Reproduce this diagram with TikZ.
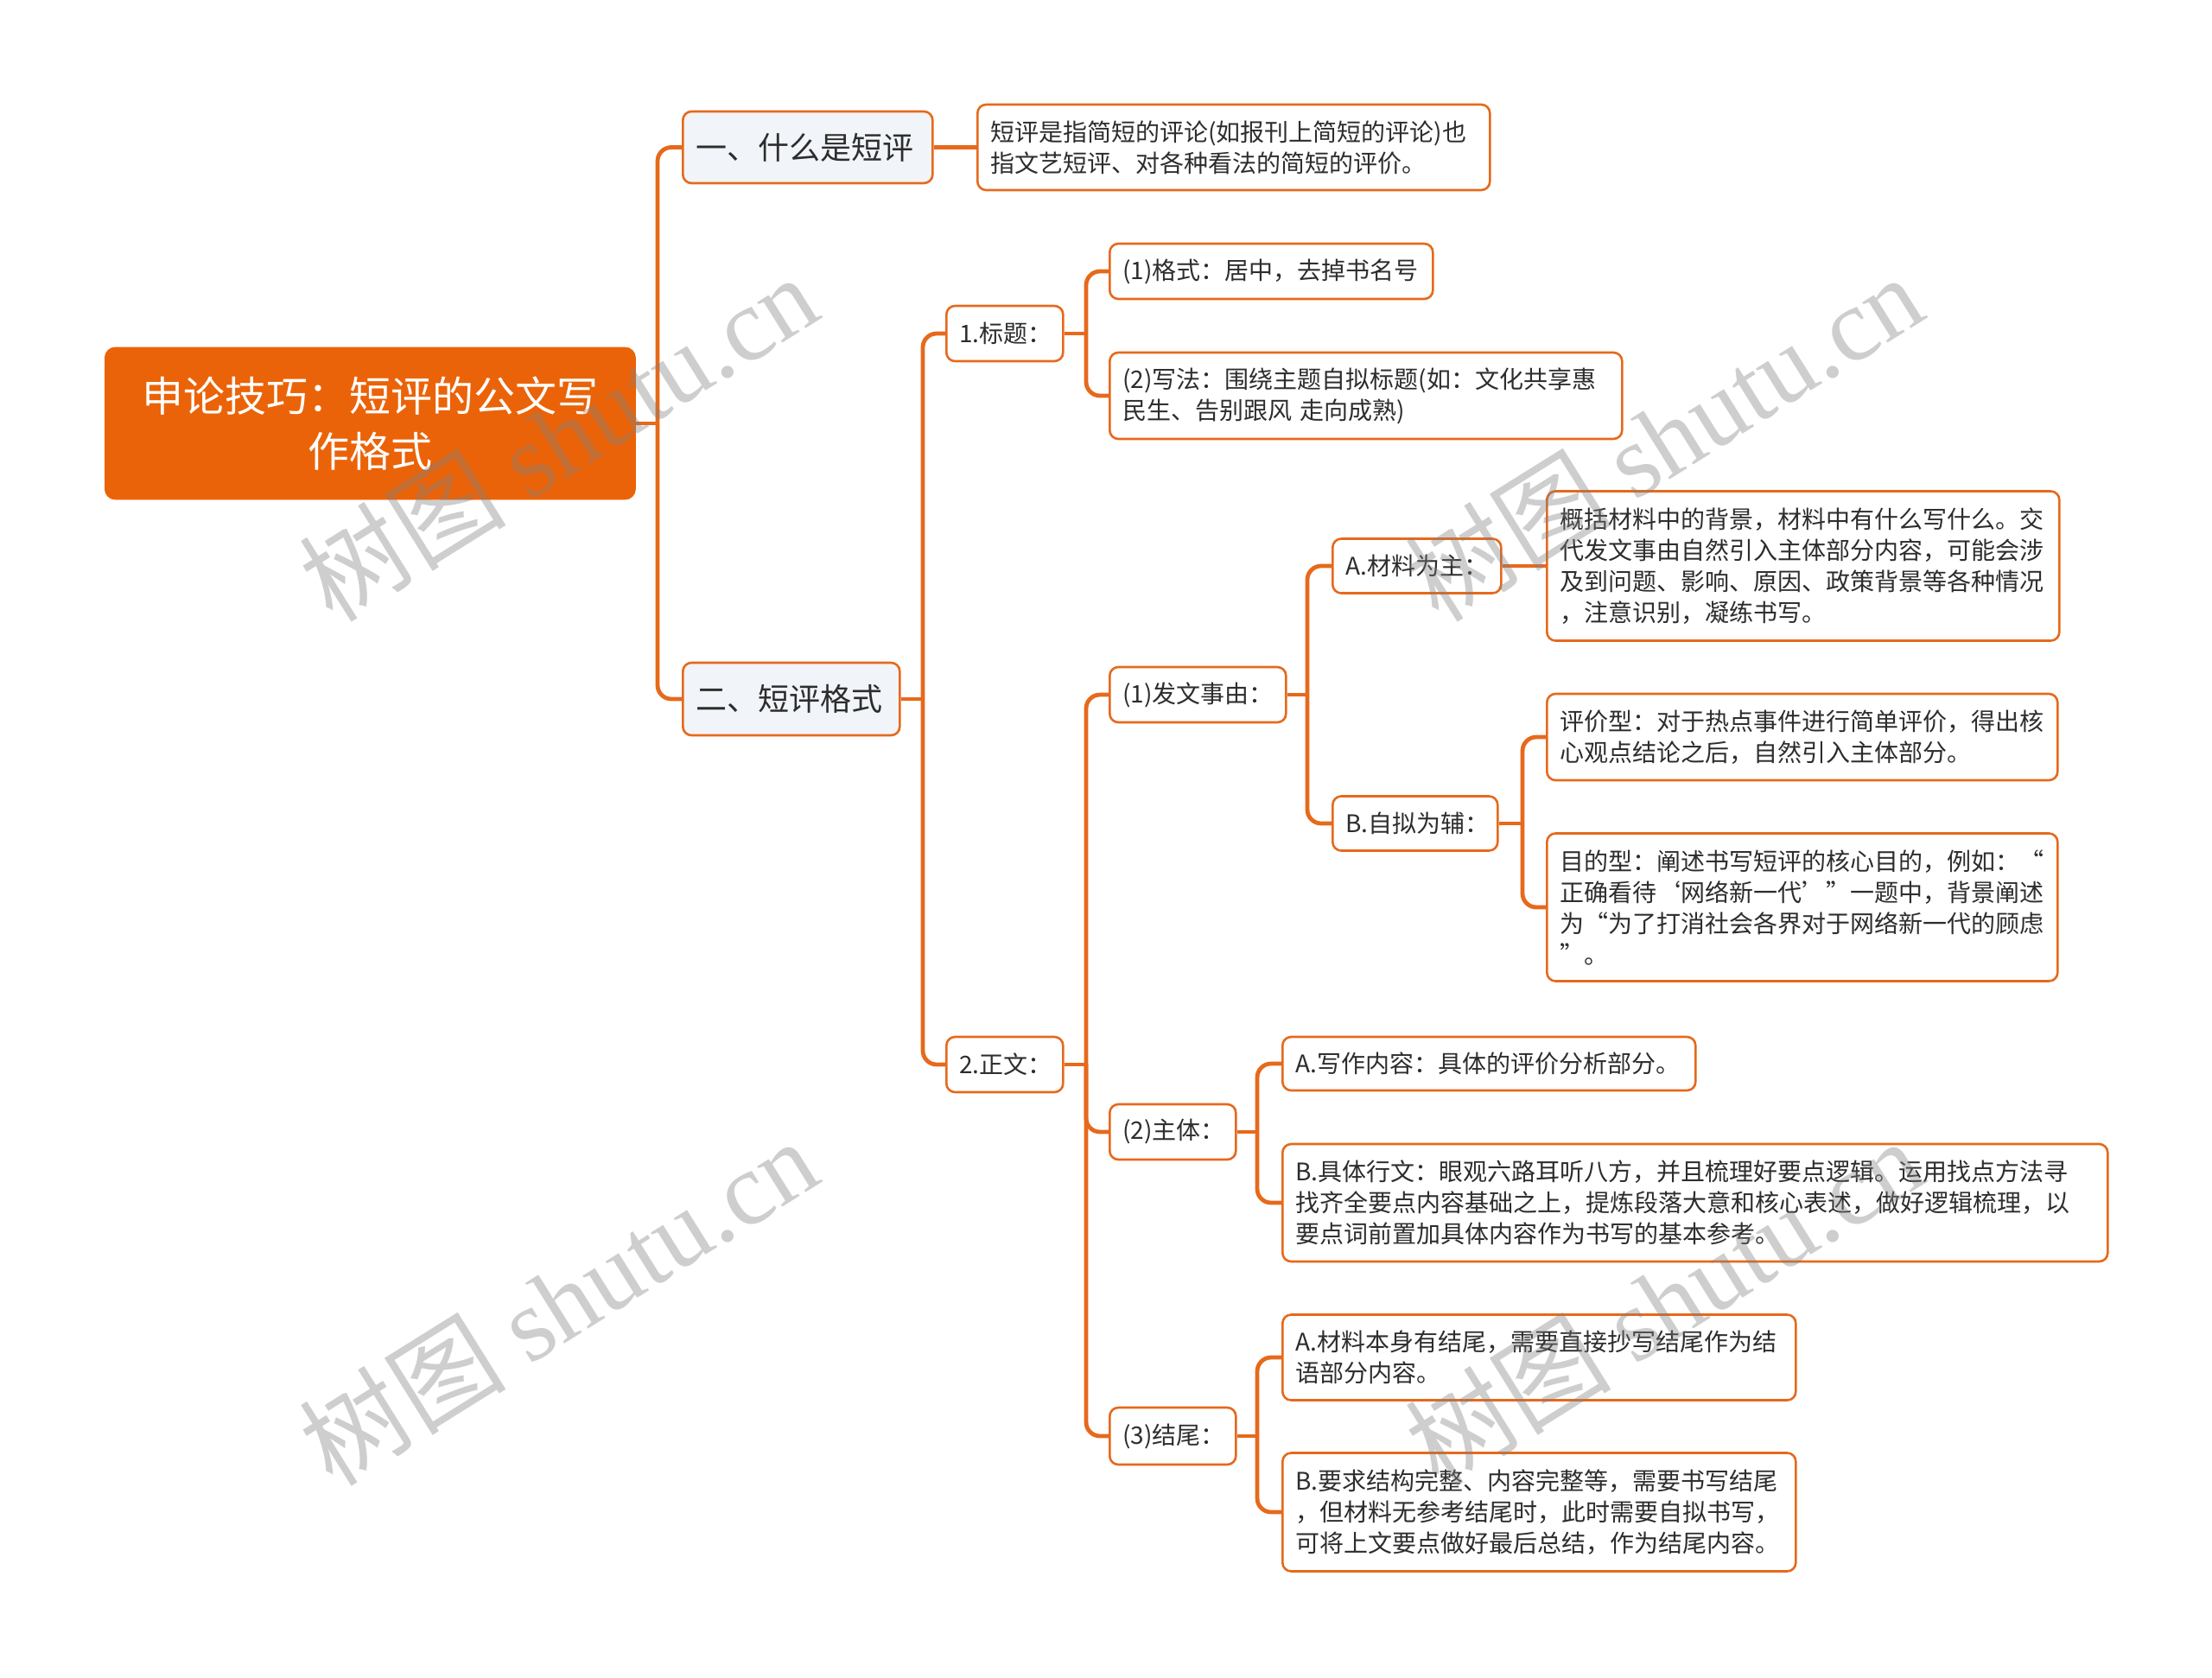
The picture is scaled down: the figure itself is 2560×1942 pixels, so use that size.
\documentclass[tikz,border=0pt]{standalone}
\usepackage{fontspec}
\setmainfont{Noto Sans CJK SC}
\newfontfamily\wmlatin{Liberation Serif}
\definecolor{orangeA}{RGB}{235,99,8}
\definecolor{lineC}{RGB}{230,105,28}
\definecolor{subFill}{RGB}{241,244,248}
\definecolor{txt}{RGB}{45,45,45}
\begin{document}
\begin{tikzpicture}[x=0.5pt,y=-0.5pt,
 conn/.style={draw=lineC, line width=2.4pt},
 elbow/.style={conn, rounded corners=8pt},
 box/.style={draw=lineC, line width=1.3pt, rounded corners=5pt, fill=white, anchor=west, inner xsep=7.5pt, inner ysep=2pt, align=left, text=txt, font=\fontsize{14}{18}\selectfont},
 sub/.style={box, fill=subFill, font=\fontsize{18}{24}\selectfont},
 rootbox/.style={fill=orangeA, draw=orangeA, rounded corners=6pt, anchor=west, text=white, align=center, inner xsep=10pt, font=\fontsize{24}{32}\selectfont},
 wm/.style={text=gray, text opacity=0.38, rotate=32, font=\fontsize{60}{64}\selectfont}
]
\fill[white] (0,0) rectangle (2560,1942);
\useasboundingbox (0,0) rectangle (2560,1942);

\node[rootbox, text width=287pt, minimum height=88pt] (root) at (121,490) {申论技巧：短评的公文写\\作格式};
\node[sub, text width=129.5pt, minimum height=41.5pt] (n1) at (789,170.5) {一、什么是短评};
\node[sub, text width=110.5pt, minimum height=42pt] (n2) at (789,809) {二、短评格式};
\node[box, text width=281.5pt, minimum height=49.5pt] (d1) at (1130,170.5) {短评是指简短的评论(如报刊上简短的评论)也\\指文艺短评、对各种看法的简短的评价。};
\node[box, text width=52.5pt, minimum height=32pt] (t1) at (1094,386) {1.标题：};
\node[box, text width=52.5pt, minimum height=32pt] (t2) at (1094,1232) {2.正文：};
\node[box, text width=172pt, minimum height=32pt] (g1) at (1283,314) {(1)格式：居中，去掉书名号};
\node[box, text width=281.5pt, minimum height=50pt] (g2) at (1283,458) {(2)写法：围绕主题自拟标题(如：文化共享惠\\民生、告别跟风 走向成熟)};
\node[box, text width=87pt, minimum height=32pt] (z1) at (1283,804) {(1)发文事由：};
\node[box, text width=58pt, minimum height=32pt] (z2) at (1283,1310) {(2)主体：};
\node[box, text width=58pt, minimum height=33pt] (z3) at (1283,1662) {(3)结尾：};
\node[box, text width=82.5pt, minimum height=31.5pt] (a1) at (1541,655) {A.材料为主：};
\node[box, text width=80.5pt, minimum height=31.5pt] (a2) at (1541,953) {B.自拟为辅：};
\node[box, text width=281.5pt, minimum height=86.5pt] (a1c) at (1789,655) {概括材料中的背景，材料中有什么写什么。交\\代发文事由自然引入主体部分内容，可能会涉\\及到问题、影响、原因、政策背景等各种情况\\，注意识别，凝练书写。};
\node[box, text width=280.5pt, minimum height=50pt] (b1) at (1789,853) {评价型：对于热点事件进行简单评价，得出核\\心观点结论之后，自然引入主体部分。};
\node[box, text width=280.5pt, minimum height=85.5pt] (b2) at (1789,1050) {目的型：阐述书写短评的核心目的，例如：“\\正确看待‘网络新一代’”一题中，背景阐述\\为“为了打消社会各界对于网络新一代的顾虑\\”。};
\node[box, text width=224pt, minimum height=31pt] (m1) at (1483,1231) {A.写作内容：具体的评价分析部分。};
\node[box, text width=462.5pt, minimum height=68pt] (m2) at (1483,1392) {B.具体行文：眼观六路耳听八方，并且梳理好要点逻辑。运用找点方法寻\\找齐全要点内容基础之上，提炼段落大意和核心表述，做好逻辑梳理，以\\要点词前置加具体内容作为书写的基本参考。};
\node[box, text width=282pt, minimum height=49.5pt] (e1) at (1483,1571) {A.材料本身有结尾，需要直接抄写结尾作为结\\语部分内容。};
\node[box, text width=282pt, minimum height=68.5pt] (e2) at (1483,1750) {B.要求结构完整、内容完整等，需要书写结尾\\，但材料无参考结尾时，此时需要自拟书写，\\可将上文要点做好最后总结，作为结尾内容。};

\coordinate (jr) at (761,490);
\coordinate (jn2) at (1068,809);
\coordinate (jt1) at (1257,386);
\coordinate (jt2) at (1257,1232);
\coordinate (jz1) at (1513,804);
\coordinate (ja2) at (1762,953);
\coordinate (jz2) at (1455,1310);
\coordinate (jz3) at (1455,1662);

\draw[conn] (root.east) -- (jr);
\draw[elbow] (jr) |- (n1.west);
\draw[elbow] (jr) |- (n2.west);
\draw[conn] (n1.east) -- (d1.west);
\draw[conn] (n2.east) -- (jn2);
\draw[elbow] (jn2) |- (t1.west);
\draw[elbow] (jn2) |- (t2.west);
\draw[conn] (t1.east) -- (jt1);
\draw[elbow] (jt1) |- (g1.west);
\draw[elbow] (jt1) |- (g2.west);
\draw[conn] (t2.east) -- (jt2);
\draw[elbow] (jt2) |- (z1.west);
\draw[elbow] (jt2) |- (z2.west);
\draw[elbow] (jt2) |- (z3.west);
\draw[conn] (z1.east) -- (jz1);
\draw[elbow] (jz1) |- (a1.west);
\draw[elbow] (jz1) |- (a2.west);
\draw[conn] (a1.east) -- (a1c.west);
\draw[conn] (a2.east) -- (ja2);
\draw[elbow] (ja2) |- (b1.west);
\draw[elbow] (ja2) |- (b2.west);
\draw[conn] (z2.east) -- (jz2);
\draw[elbow] (jz2) |- (m1.west);
\draw[elbow] (jz2) |- (m2.west);
\draw[conn] (z3.east) -- (jz3);
\draw[elbow] (jz3) |- (e1.west);
\draw[elbow] (jz3) |- (e2.west);

\node[wm] (w1) at (646,506) {树图 {\wmlatin shutu.cn}};
\node[wm] (w2) at (1925,506) {树图 {\wmlatin shutu.cn}};
\node[wm] (w3) at (646,1506) {树图 {\wmlatin shutu.cn}};
\node[wm] (w4) at (1925,1506) {树图 {\wmlatin shutu.cn}};
\end{tikzpicture}
\end{document}
